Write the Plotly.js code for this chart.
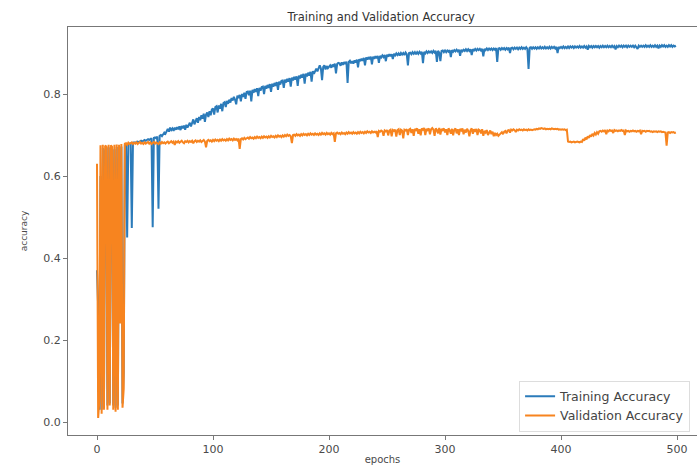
<!DOCTYPE html>
<html>
<head>
<meta charset="utf-8">
<script src="https://cdn.plot.ly/plotly-3.0.1.min.js"></script>
<style>html,body{margin:0;padding:0;background:#fff;}#chart{width:697px;height:465px;}</style>
</head>
<body>
<div id="chart"></div>
<script>
const chartTitle = "Training and Validation Accuracy";
const xLabel = "epochs";
const yLabel = "accuracy";
const seriesNames = ["Training Accuracy", "Validation Accuracy"];
const xTicks = [0, 100, 200, 300, 400, 500];
const yTicks = [0.0, 0.2, 0.4, 0.6, 0.8];

const trainAcc = [
0.370,0.280,0.030,0.600,0.030,0.668,0.035,0.662,0.670,0.040,0.670,0.045,0.668,0.670,0.040,0.665,0.035,0.671,0.040,0.670,
0.300,0.672,0.045,0.120,0.675,0.676,0.450,0.678,0.679,0.680,0.473,0.681,0.682,0.680,0.683,0.684,0.682,0.685,0.686,0.684,
0.687,0.688,0.686,0.689,0.690,0.688,0.691,0.692,0.475,0.693,0.694,0.692,0.696,0.520,0.698,0.700,0.697,0.703,0.706,0.703,
0.712,0.715,0.708,0.718,0.712,0.716,0.710,0.718,0.713,0.719,0.714,0.721,0.712,0.722,0.716,0.723,0.713,0.725,0.718,0.727,
0.730,0.721,0.732,0.738,0.726,0.735,0.741,0.730,0.744,0.736,0.748,0.740,0.752,0.732,0.750,0.755,0.744,0.758,0.748,0.762,
0.765,0.750,0.768,0.770,0.755,0.772,0.764,0.776,0.758,0.778,0.780,0.768,0.783,0.776,0.786,0.779,0.790,0.784,0.793,0.786,
0.775,0.796,0.790,0.798,0.782,0.800,0.793,0.803,0.788,0.805,0.806,0.797,0.808,0.782,0.810,0.803,0.812,0.805,0.814,0.795,
0.815,0.808,0.817,0.818,0.800,0.820,0.813,0.822,0.815,0.824,0.805,0.825,0.818,0.827,0.820,0.829,0.810,0.830,0.823,0.832,
0.833,0.815,0.835,0.828,0.837,0.830,0.839,0.818,0.840,0.833,0.842,0.835,0.843,0.820,0.845,0.838,0.847,0.840,0.849,0.825,
0.850,0.843,0.852,0.845,0.854,0.830,0.856,0.849,0.858,0.862,0.855,0.866,0.870,0.862,0.834,0.866,0.870,0.860,0.868,0.863,
0.868,0.870,0.864,0.872,0.866,0.874,0.850,0.873,0.876,0.875,0.869,0.877,0.871,0.878,0.873,0.879,0.827,0.878,0.881,0.875,
0.880,0.874,0.882,0.877,0.884,0.865,0.885,0.880,0.886,0.881,0.888,0.870,0.889,0.884,0.890,0.885,0.891,0.872,0.891,0.886,
0.892,0.887,0.893,0.876,0.893,0.889,0.894,0.890,0.895,0.880,0.896,0.891,0.897,0.892,0.897,0.885,0.898,0.894,0.899,0.895,
0.899,0.894,0.900,0.896,0.900,0.895,0.901,0.897,0.870,0.900,0.901,0.897,0.902,0.898,0.902,0.897,0.902,0.898,0.903,0.899,
0.903,0.875,0.903,0.899,0.904,0.900,0.904,0.901,0.904,0.900,0.905,0.901,0.905,0.878,0.905,0.901,0.880,0.905,0.906,0.902,
0.906,0.902,0.906,0.903,0.907,0.890,0.907,0.903,0.907,0.904,0.908,0.904,0.908,0.893,0.908,0.904,0.908,0.905,0.909,0.905,
0.909,0.905,0.909,0.895,0.909,0.906,0.910,0.906,0.910,0.907,0.910,0.906,0.910,0.892,0.910,0.907,0.911,0.907,0.911,0.908,
0.911,0.907,0.911,0.908,0.912,0.878,0.911,0.912,0.908,0.912,0.909,0.912,0.908,0.912,0.909,0.913,0.900,0.912,0.913,0.909,
0.913,0.910,0.913,0.909,0.913,0.910,0.914,0.910,0.913,0.910,0.914,0.910,0.861,0.913,0.914,0.910,0.914,0.911,0.914,0.910,
0.914,0.911,0.915,0.911,0.914,0.911,0.915,0.911,0.914,0.911,0.915,0.911,0.915,0.912,0.915,0.911,0.915,0.900,0.915,0.912,
0.915,0.912,0.916,0.912,0.915,0.912,0.916,0.912,0.916,0.913,0.916,0.912,0.916,0.913,0.916,0.913,0.917,0.913,0.916,0.913,
0.917,0.913,0.916,0.908,0.917,0.914,0.917,0.913,0.917,0.914,0.917,0.914,0.917,0.913,0.917,0.914,0.918,0.914,0.917,0.914,
0.918,0.914,0.917,0.914,0.918,0.914,0.917,0.909,0.917,0.914,0.918,0.915,0.918,0.914,0.918,0.915,0.918,0.914,0.918,0.915,
0.918,0.915,0.918,0.914,0.918,0.915,0.910,0.918,0.915,0.918,0.915,0.918,0.915,0.919,0.915,0.918,0.915,0.919,0.915,0.918,
0.915,0.919,0.915,0.918,0.911,0.918,0.915,0.919,0.916,0.919,0.915,0.918,0.915,0.919,0.916,0.919,0.915,0.918,0.916,0.918
];

const valAcc = [
0.630,0.010,0.050,0.675,0.020,0.676,0.030,0.674,0.672,0.030,0.676,0.040,0.675,0.671,0.030,0.676,0.025,0.677,0.030,0.676,
0.240,0.678,0.035,0.080,0.679,0.680,0.676,0.681,0.678,0.680,0.682,0.678,0.681,0.679,0.682,0.678,0.681,0.683,0.679,0.681,
0.678,0.682,0.679,0.681,0.683,0.679,0.682,0.678,0.681,0.683,0.679,0.682,0.680,0.678,0.682,0.679,0.683,0.680,0.682,0.679,
0.682,0.684,0.680,0.683,0.685,0.681,0.684,0.676,0.684,0.682,0.685,0.681,0.684,0.686,0.682,0.680,0.685,0.683,0.686,0.682,
0.685,0.683,0.686,0.680,0.685,0.687,0.683,0.686,0.684,0.687,0.683,0.686,0.688,0.684,0.670,0.686,0.688,0.685,0.687,0.684,
0.688,0.685,0.689,0.686,0.688,0.685,0.689,0.686,0.690,0.687,0.689,0.686,0.690,0.687,0.691,0.688,0.690,0.687,0.691,0.688,
0.690,0.687,0.691,0.666,0.690,0.692,0.689,0.693,0.690,0.692,0.694,0.691,0.695,0.692,0.694,0.691,0.695,0.692,0.696,0.693,
0.695,0.692,0.696,0.693,0.697,0.694,0.696,0.693,0.697,0.694,0.698,0.695,0.697,0.694,0.698,0.695,0.699,0.696,0.698,0.695,
0.699,0.696,0.700,0.697,0.701,0.698,0.700,0.697,0.680,0.700,0.701,0.698,0.702,0.699,0.701,0.698,0.702,0.699,0.703,0.700,
0.702,0.699,0.703,0.700,0.704,0.701,0.703,0.700,0.704,0.701,0.703,0.700,0.704,0.701,0.705,0.702,0.704,0.701,0.705,0.702,
0.704,0.701,0.705,0.702,0.704,0.683,0.704,0.706,0.703,0.705,0.702,0.706,0.703,0.705,0.702,0.706,0.703,0.707,0.704,0.706,
0.703,0.707,0.704,0.706,0.703,0.707,0.704,0.708,0.705,0.707,0.704,0.708,0.705,0.709,0.706,0.708,0.705,0.709,0.706,0.708,
0.706,0.709,0.695,0.710,0.708,0.711,0.709,0.698,0.711,0.709,0.712,0.699,0.711,0.713,0.697,0.712,0.710,0.713,0.696,0.712,
0.714,0.700,0.713,0.711,0.692,0.713,0.711,0.714,0.700,0.713,0.715,0.705,0.714,0.698,0.715,0.712,0.716,0.703,0.714,0.699,
0.716,0.713,0.717,0.700,0.715,0.712,0.716,0.702,0.714,0.717,0.713,0.698,0.716,0.712,0.704,0.717,0.701,0.715,0.712,0.716,
0.706,0.714,0.700,0.716,0.712,0.703,0.715,0.699,0.713,0.716,0.704,0.714,0.700,0.715,0.711,0.716,0.702,0.713,0.706,0.715,
0.710,0.697,0.712,0.716,0.703,0.714,0.708,0.715,0.700,0.713,0.711,0.704,0.714,0.698,0.710,0.706,0.712,0.700,0.707,0.711,
0.702,0.708,0.697,0.705,0.700,0.703,0.698,0.700,0.704,0.707,0.702,0.708,0.710,0.704,0.711,0.712,0.706,0.713,0.711,0.714,
0.712,0.707,0.713,0.711,0.714,0.712,0.713,0.711,0.714,0.712,0.713,0.711,0.714,0.712,0.713,0.712,0.713,0.714,0.713,0.715,
0.714,0.716,0.715,0.717,0.716,0.715,0.716,0.714,0.715,0.714,0.715,0.714,0.716,0.715,0.714,0.715,0.714,0.715,0.713,0.714,
0.713,0.714,0.713,0.714,0.712,0.713,0.684,0.683,0.684,0.682,0.683,0.684,0.682,0.683,0.684,0.683,0.682,0.684,0.683,0.690,
0.686,0.694,0.689,0.697,0.693,0.700,0.696,0.703,0.699,0.705,0.701,0.707,0.703,0.709,0.710,0.708,0.711,0.709,0.712,0.702,
0.711,0.709,0.712,0.710,0.711,0.705,0.712,0.710,0.711,0.709,0.711,0.710,0.712,0.710,0.711,0.700,0.711,0.709,0.710,0.708,
0.710,0.709,0.711,0.709,0.710,0.708,0.710,0.709,0.711,0.702,0.710,0.709,0.710,0.708,0.710,0.709,0.710,0.708,0.709,0.707,
0.709,0.708,0.709,0.707,0.709,0.708,0.709,0.707,0.708,0.707,0.706,0.674,0.706,0.707,0.705,0.707,0.706,0.707,0.705,0.706
];

const epochs = trainAcc.map((_, i) => i);

const FONT = "DejaVu Sans, Liberation Sans, sans-serif";
const TXT = "#4a4a4a";

const traces = [
  { x: epochs, y: trainAcc, type: "scatter", mode: "lines", name: seriesNames[0],
    line: { color: "#2b7bba", width: 2 } },
  { x: epochs, y: valAcc, type: "scatter", mode: "lines", name: seriesNames[1],
    line: { color: "#f7841f", width: 2 } }
];

const layout = {
  width: 697, height: 465,
  margin: { l: 68, r: 0, t: 27, b: 30, pad: 0 },
  paper_bgcolor: "#ffffff", plot_bgcolor: "#ffffff",
  font: { family: FONT, color: TXT, size: 10 },
  title: { text: chartTitle, font: { family: FONT, size: 11.5, color: "#333" },
           xref: "container", x: 0.547, xanchor: "center",
           yref: "container", y: 1 - 17/465, yanchor: "middle" },
  showlegend: true,
  legend: { x: 0.989, xanchor: "right", y: 0.008, yanchor: "bottom",
            bgcolor: "rgba(255,255,255,0.85)", bordercolor: "#dddddd", borderwidth: 1,
            font: { family: FONT, size: 12.5, color: "#444" }, itemwidth: 30,
            tracegroupgap: 0 },
  xaxis: {
    range: [-25, 517.2], tickvals: xTicks, ticktext: xTicks.map(String),
    showgrid: false, zeroline: false, showline: true, linecolor: "#777", linewidth: 1,
    mirror: true, ticks: "outside", ticklen: 4, tickcolor: "#777",
    tickfont: { family: FONT, size: 11, color: TXT },
    title: { text: xLabel, font: { family: FONT, size: 10, color: TXT }, standoff: 1 },
    automargin: false
  },
  yaxis: {
    range: [-0.0317, 0.9634], tickvals: yTicks, ticktext: yTicks.map(v => v.toFixed(1)),
    showgrid: false, zeroline: false, showline: true, linecolor: "#777", linewidth: 1,
    ticks: "outside", ticklen: 4, tickcolor: "#777",
    tickfont: { family: FONT, size: 11, color: TXT },
    title: { text: yLabel, font: { family: FONT, size: 9, color: TXT }, standoff: 14 },
    automargin: false
  }
};

Plotly.newPlot("chart", traces, layout, { displayModeBar: false, staticPlot: true });
</script>
</body>
</html>
